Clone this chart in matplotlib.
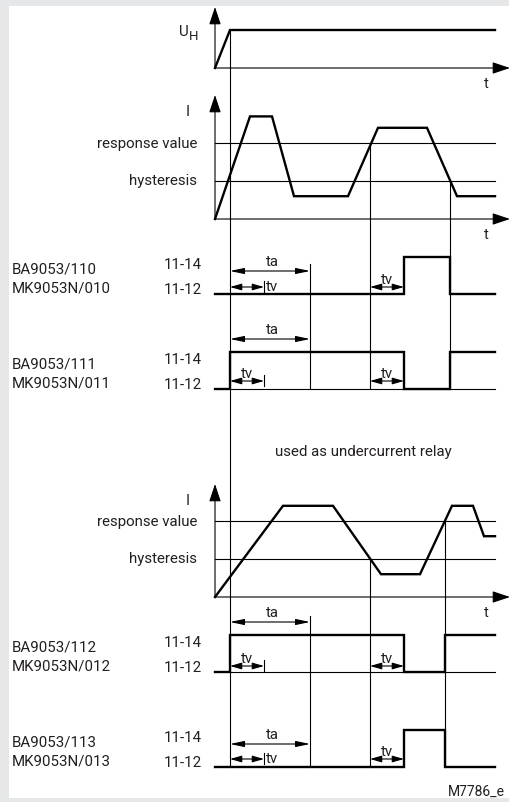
import numpy as np
from matplotlib import pyplot as plt
from matplotlib.patches import Rectangle

# time axis: pixel offset from the y axis of every panel
X0 = 215
T_END = 280

# supply voltage U_H
uh_t = [0, 15, T_END]
uh_v = [0, 1, 1]

# current, used as overcurrent relay (units of hysteresis spacing)
i1_t = [0, 35, 57, 79, 133, 163, 212, 242, T_END]
i1_v = [0, 2.7, 2.7, 0.6, 0.6, 2.4, 2.4, 0.6, 0.6]

# current, used as undercurrent relay
i2_t = [0, 68, 118, 166, 205, 237, 258, 269, T_END]
i2_v = [0, 2.4, 2.4, 0.6, 0.6, 2.4, 2.4, 1.6, 1.6]

hyst_level = 1
resp_level = 2

# relay contact states (0 = 11-12, 1 = 11-14)
r110_t = [0, 189, 189, 235, 235, T_END]
r110_v = [0, 0, 1, 1, 0, 0]
r111_t = [0, 15, 15, 189, 189, 235, 235, T_END]
r111_v = [0, 0, 1, 1, 0, 0, 1, 1]
r112_t = [0, 15, 15, 189, 189, 230, 230, T_END]
r112_v = [0, 0, 1, 1, 0, 0, 1, 1]
r113_t = [0, 189, 189, 230, 230, T_END]
r113_v = [0, 0, 1, 1, 0, 0]

t_on = 15
t_a = 80
t_v = 34
ev_over = [155, 235]
ev_under = [155, 230]

names = [("BA9053/110", "MK9053N/010"), ("BA9053/111", "MK9053N/011"),
         ("BA9053/112", "MK9053N/012"), ("BA9053/113", "MK9053N/013")]

FONT = ['Liberation Sans Narrow', 'Roboto', 'DejaVu Sans']
plt.rcParams['font.family'] = FONT
TC = '#231f20'
FS = 10.8

fig = plt.figure(figsize=(5.10, 8.03), dpi=100, facecolor='#e6e7e9')
ax = fig.add_axes([0, 0, 1, 1])
ax.set_xlim(0, 510)
ax.set_ylim(803, 0)
ax.axis('off')
ax.add_patch(Rectangle((9, 7), 510, 792, facecolor='white', edgecolor='none'))

THICK = 1.7
THIN = 0.8

def X(t):
    return X0 + np.asarray(t, dtype=float)

def arrow(x1, y1, x2, y2, style, ms, hl, hw):
    ax.annotate('', xy=(x2, y2), xytext=(x1, y1),
                arrowprops=dict(arrowstyle='%s,head_length=%s,head_width=%s' % (style, hl, hw),
                                mutation_scale=ms, lw=THIN, color='k',
                                shrinkA=0, shrinkB=0))

def txt(x, y, s, ha='left', size=FS):
    ax.text(x, y, s, fontsize=size, color=TC, ha=ha, va='center')

def axes_arrows(y0, ytop):
    arrow(X0, y0, X0, ytop, '-|>', 12, 0.9, 0.3)
    arrow(X0, y0, 510, y0, '-|>', 12, 0.9, 0.3)
    txt(486, y0 + 15, 't', ha='center', size=10.5)

# U_H panel
uh_y0, uh_h = 69, 38
axes_arrows(uh_y0, 8)
ax.plot(X(uh_t), uh_y0 - uh_h * np.array(uh_v), color='k', lw=THICK, solid_joinstyle='miter')
txt(179, 32, 'U')
txt(189, 36, 'H', size=9.5)

# current panels
def current(y0, ytop, t, v, unit=38):
    axes_arrows(y0, ytop)
    for lv in (hyst_level, resp_level):
        ax.plot([X0, X0 + T_END], [y0 - unit * lv] * 2, color='k', lw=THIN)
    ax.plot(X(t), y0 - unit * np.array(v), color='k', lw=THICK, solid_joinstyle='miter')
    txt(188, ytop + 16, 'I', ha='center')
    txt(197, y0 - unit * resp_level, 'response value', ha='right')
    txt(197, y0 - unit * hyst_level - 1, 'hysteresis', ha='right')

current(220, 96, i1_t, i1_v)
current(598, 485, i2_t, i2_v)

txt(363, 452, 'used as undercurrent relay', ha='center')

# relay rows
def relay(y_low, t, v, label, base_line, h=37):
    ax.plot(X(t), y_low - h * np.array(v), color='k', lw=THICK, solid_joinstyle='miter')
    if base_line:
        ax.plot([X0 + t_on, X0 + T_END], [y_low, y_low], color='k', lw=THIN)
    txt(12, y_low - 25, label[0])
    txt(12, y_low - 6, label[1])
    txt(202, y_low - 30, '11-14', ha='right')
    txt(202, y_low - 5, '11-12', ha='right')

def timing(y_ta, y_tv, tv_side, ev):
    x1, x2 = X0 + t_on, X0 + t_on + t_a
    arrow(x1, y_ta, x2, y_ta, '<|-|>', 10, 0.85, 0.18)
    txt((x1 + x2) / 2 + 2, y_ta - 10, 'ta', ha='center')
    xa, xb = X0 + t_on, X0 + t_on + t_v
    arrow(xa, y_tv, xb, y_tv, '<|-|>', 10, 0.7, 0.2)
    ax.plot([xb, xb], [y_tv - 6, y_tv + 5], color='k', lw=THIN)
    if tv_side:
        txt(xb + 2, y_tv - 1, 'tv')
    else:
        txt((xa + xb) / 2, y_tv - 8, 'tv', ha='center')
    e = X0 + ev
    arrow(e, y_tv, e + t_v, y_tv, '<|-|>', 10, 0.7, 0.2)
    txt(e + t_v / 2, y_tv - 8, 'tv', ha='center')

relay(295, r110_t, r110_v, names[0], False)
timing(272, 288, True, ev_over[0])
relay(390, r111_t, r111_v, names[1], True)
timing(340, 382, False, ev_over[0])
relay(673, r112_t, r112_v, names[2], True)
timing(623, 667, False, ev_under[0])
relay(768, r113_t, r113_v, names[3], False)
timing(745, 760, True, ev_under[0])

# vertical event markers
def vline(t, y1, y2):
    ax.plot([X0 + t, X0 + t], [y1, y2], color='k', lw=THIN)

vline(t_on, 31, 768)
vline(t_on + t_a, 265, 390)
vline(ev_over[0], 144, 390)
vline(ev_over[1], 182, 390)
vline(t_on + t_a, 617, 768)
vline(ev_under[0], 560, 768)
vline(ev_under[1], 522, 768)

txt(505, 792, 'M7786_e', ha='right', size=10)

fig.savefig('out.png', dpi=100, facecolor=fig.get_facecolor())
